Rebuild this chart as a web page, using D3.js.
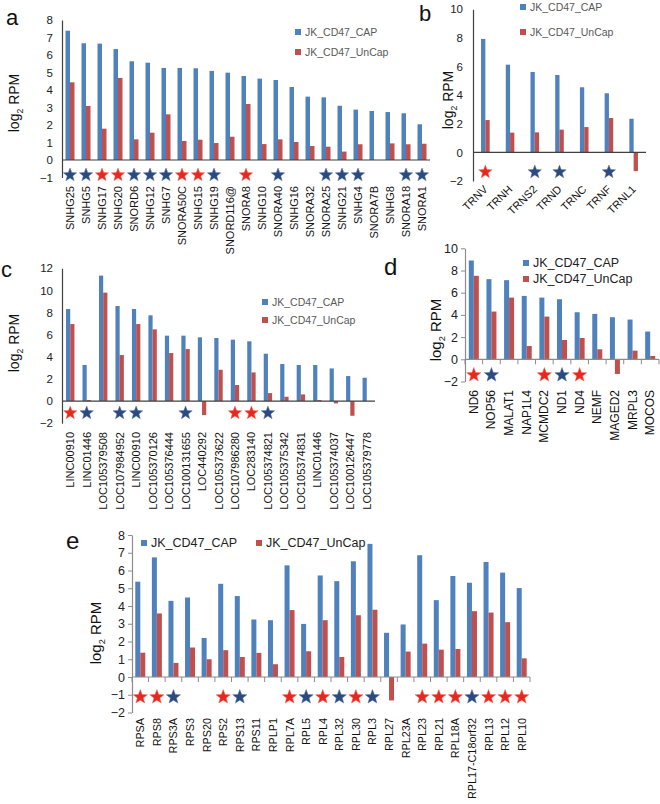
<!DOCTYPE html>
<html><head><meta charset="utf-8">
<script src="https://cdn.jsdelivr.net/npm/d3@7"></script>
<style>
body{margin:0;background:#fff;}
svg{display:block;font-family:"Liberation Sans",Arial,sans-serif;}
</style></head>
<body>
<svg id="chart" width="660" height="804"></svg>
<script>
// ---------- DATA ----------
const seriesNames = ["JK_CD47_CAP", "JK_CD47_UnCap"];

const aCategories = ["SNHG25","SNHG5","SNHG17","SNHG20","SNORD6","SNHG12","SNHG7","SNORA50C","SNHG15","SNHG19","SNORD116@","SNORA8","SNHG10","SNORA40","SNHG16","SNORA32","SNORA25","SNHG21","SNHG4","SNORA7B","SNHG8","SNORA18","SNORA1"];
const aCap   = [7.39,6.67,6.65,6.34,5.64,5.56,5.26,5.26,5.24,5.09,4.99,4.80,4.65,4.57,4.17,3.62,3.58,3.10,2.88,2.80,2.74,2.67,2.04];
const aUnCap = [4.44,3.09,1.79,4.69,1.18,1.56,2.61,1.09,1.16,0.97,1.33,3.20,0.91,1.18,1.03,0.80,0.76,0.48,0.90,null,0.95,0.90,0.93];
const aStars = ["b","b","r","r","b","b","b","r","r","b","","r","","b","","","b","b","b","","","b","b"];
const aTicks = [-1,0,1,2,3,4,5,6,7,8];

const bCategories = ["TRNV","TRNH","TRNS2","TRND","TRNC","TRNF","TRNL1"];
const bCap   = [7.93,6.13,5.62,5.41,4.55,4.13,2.35];
const bUnCap = [2.26,1.38,1.40,1.59,1.77,2.40,-1.31];
const bStars = ["r","","b","b","","b",""];
const bTicks = [-2,0,2,4,6,8,10];

const cCategories = ["LINC00910","LINC01446","LOC105379508","LOC107984952","LINC00910","LOC105370126","LOC105376444","LOC100131655","LOC440292","LOC105373622","LOC107986280","LOC283140","LOC105374821","LOC105375342","LOC105374831","LINC01446","LOC105374037","LOC100126447","LOC105379778"];
const cCap   = [8.32,3.26,11.34,8.59,8.32,7.75,5.91,5.91,5.76,5.70,5.55,5.40,4.28,3.35,3.26,3.26,2.95,2.26,2.11];
const cUnCap = [6.96,0.09,9.80,4.16,6.96,6.48,4.34,4.70,-1.27,2.83,1.45,2.59,0.72,0.39,0.60,0.09,-0.21,-1.33,null];
const cStars = ["r","b","","b","b","","","b","","","r","r","b","","","","","",""];
const cTicks = [-2,0,2,4,6,8,10,12];

const dCategories = ["ND6","NOP56","MALAT1","NAP1L4","MCMDC2","ND1","ND4","NEMF","MAGED2","MRPL3","MOCOS"];
const dCap   = [8.90,7.22,7.13,5.71,5.56,5.41,4.24,4.09,3.79,3.58,2.50];
const dUnCap = [7.52,4.30,5.56,1.20,3.85,1.74,1.92,0.90,-1.32,0.78,0.30];
const dStars = ["r","b","","","r","b","r","","","",""];
const dTicks = [-2,0,2,4,6,8,10];

const eCategories = ["RPSA","RPS8","RPS3A","RPS3","RPS20","RPS2","RPS13","RPS11","RPLP1","RPL7A","RPL5","RPL4","RPL32","RPL30","RPL3","RPL27","RPL23A","RPL23","RPL21","RPL18A","RPL17-C18orf32","RPL13","RPL12","RPL10"];
const eCap   = [5.37,6.74,4.29,4.48,2.20,5.25,4.56,3.24,3.20,6.29,2.99,5.72,5.40,6.52,7.50,2.49,2.96,6.86,4.33,5.69,5.31,6.48,5.88,5.01];
const eUnCap = [1.37,3.58,0.79,1.66,1.00,1.51,1.13,1.36,0.72,3.77,1.45,3.20,1.13,3.48,3.79,-1.32,1.43,1.88,1.54,1.58,3.71,3.63,3.09,1.05];
const eStars = ["r","r","b","","","r","b","","","r","b","r","b","r","b","","","r","r","r","b","r","r","r"];
const eTicks = [-2,-1,0,1,2,3,4,5,6,7,8];

// ---------- STYLE ----------
const COL_CAP = "#4f81bd", COL_UNCAP = "#c0504d";
const STAR_COL = {r:"#e8281e", b:"#2b4a7d"};

const svg = d3.select("#chart");

function starPath(cx, cy, ro, ri){
  const pts = [];
  for(let i=0;i<10;i++){
    const r = i%2 ? ri : ro;
    const a = (-90 + i*36) * Math.PI/180;
    pts.push([cx + r*Math.cos(a), cy + r*Math.sin(a)]);
  }
  return "M" + pts.map(p=>p[0].toFixed(2)+","+p[1].toFixed(2)).join("L") + "Z";
}

function yLabel(g, x, y, size){
  const t = g.append("text")
    .attr("transform", `translate(${x},${y}) rotate(-90)`)
    .attr("text-anchor","middle")
    .attr("font-size", size).attr("fill","#111");
  t.append("tspan").text("log");
  t.append("tspan").attr("font-size", size*0.62).attr("dy", size*0.25).text("2");
  t.append("tspan").attr("dy", -size*0.25).text(" RPM");
}

function panel(cfg){
  const g = svg.append("g");
  const x = d3.scaleBand().domain(d3.range(cfg.cats.length)).range([cfg.x0, cfg.x1]);
  const y = d3.scaleLinear().domain([cfg.ticks[0], cfg.ticks[cfg.ticks.length-1]]).range([cfg.yBottom, cfg.yTop]);
  const bw = cfg.barW;

  // y axis
  const ax = d3.axisLeft(y).tickValues(cfg.ticks).tickSizeOuter(0).tickSizeInner(cfg.tickMarks ? 4 : 0).tickPadding(cfg.tickPad);
  const ag = g.append("g").attr("transform", `translate(${cfg.x0},0)`).call(ax);
  ag.select(".domain").attr("stroke", cfg.axisColor).attr("stroke-width",1.2);
  ag.selectAll(".tick line").attr("stroke", cfg.axisColor);
  ag.selectAll(".tick text").attr("font-size", cfg.tickFont).attr("fill","#222").attr("font-family","Liberation Sans, Arial, sans-serif");

  // bars
  cfg.cats.forEach((c,i)=>{
    const cx = x(i) + x.bandwidth()/2;
    const v1 = cfg.cap[i], v2 = cfg.uncap[i];
    if(v1 != null){
      g.append("rect").attr("x", cx - bw).attr("width", bw)
        .attr("y", Math.min(y(v1), y(0))).attr("height", Math.abs(y(v1)-y(0)))
        .attr("fill", COL_CAP);
    }
    if(v2 != null){
      g.append("rect").attr("x", cx).attr("width", bw)
        .attr("y", Math.min(y(v2), y(0))).attr("height", Math.abs(y(v2)-y(0)))
        .attr("fill", COL_UNCAP);
    }
  });

  // zero line
  g.append("line").attr("x1", cfg.x0).attr("x2", cfg.x1).attr("y1", y(0)).attr("y2", y(0))
    .attr("stroke", cfg.axisColor).attr("stroke-width", 1.2);
  if(cfg.tickMarks){
    d3.range(cfg.cats.length+1).forEach(i=>{
      const xx = cfg.x0 + i*x.bandwidth();
      g.append("line").attr("x1", xx).attr("x2", xx).attr("y1", y(0)).attr("y2", y(0)+5)
        .attr("stroke", cfg.axisColor);
    });
  }

  // stars
  cfg.stars.forEach((s,i)=>{
    if(!s) return;
    const cx = x(i) + x.bandwidth()/2;
    g.append("path").attr("d", starPath(cx, cfg.starY, cfg.starR, cfg.starR*0.42))
      .attr("fill", STAR_COL[s]).attr("stroke", s==="r" ? "#f26a5e" : "#5b75a3").attr("stroke-width",0.5);
  });

  // category labels
  cfg.cats.forEach((c,i)=>{
    const cx = x(i) + x.bandwidth()/2;
    if(cfg.rot === -45){
      g.append("text").attr("transform", `translate(${cx+3},${cfg.labelY}) rotate(-45)`)
        .attr("text-anchor","end").attr("font-size", cfg.catFont).attr("fill","#111").text(c);
    } else {
      g.append("text").attr("transform", `translate(${cx},${cfg.labelY}) rotate(-90)`)
        .attr("text-anchor","end").attr("dominant-baseline","central")
        .attr("font-size", cfg.catFont).attr("fill","#111").text(c);
    }
  });

  // legend
  cfg.legend.forEach((L,k)=>{
    g.append("rect").attr("x", L[0]).attr("y", L[1]-3).attr("width",6).attr("height",6)
      .attr("fill", k===0 ? COL_CAP : COL_UNCAP);
    g.append("text").attr("x", L[0]+10).attr("y", L[1]).attr("dominant-baseline","central")
      .attr("font-size", cfg.legFont).attr("fill", cfg.legColor).text(seriesNames[k]);
  });

  yLabel(g, cfg.yLab[0], cfg.yLab[1], cfg.yLabFont);
  g.append("text").attr("x", cfg.letter[0]).attr("y", cfg.letter[1])
    .attr("font-size", cfg.letterFont).attr("fill","#111").text(cfg.letter[2]);
}

panel({cats:aCategories, cap:aCap, uncap:aUnCap, stars:aStars, ticks:aTicks,
  x0:62, x1:430, yTop:20, yBottom:177.5, barW:4.5, axisColor:"#404040", tickMarks:false, tickPad:9, tickFont:11.5,
  starY:175, starR:7, labelY:186, catFont:11, rot:-90,
  legend:[[295,32],[295,52]], legFont:10.5, legColor:"#595959",
  yLab:[19,103], yLabFont:14, letter:[6,25,"a"], letterFont:22});

panel({cats:bCategories, cap:bCap, uncap:bUnCap, stars:bStars, ticks:bTicks,
  x0:473, x1:646, yTop:9.3, yBottom:181, barW:4.3, axisColor:"#404040", tickMarks:false, tickPad:10, tickFont:11.5,
  starY:172, starR:7, labelY:190, catFont:11, rot:-45,
  legend:[[520,7],[520,32]], legFont:10.5, legColor:"#595959",
  yLab:[453,100], yLabFont:14, letter:[419,21,"b"], letterFont:22});

panel({cats:cCategories, cap:cCap, uncap:cUnCap, stars:cStars, ticks:cTicks,
  x0:62, x1:375, yTop:268.3, yBottom:423.2, barW:4.2, axisColor:"#404040", tickMarks:false, tickPad:9, tickFont:11.5,
  starY:413, starR:7, labelY:432, catFont:11, rot:-90,
  legend:[[262,302],[262,320]], legFont:10.5, legColor:"#595959",
  yLab:[19,343], yLabFont:14, letter:[1,277,"c"], letterFont:22});

panel({cats:dCategories, cap:dCap, uncap:dUnCap, stars:dStars, ticks:dTicks,
  x0:465, x1:659, yTop:248.3, yBottom:381.5, barW:5, axisColor:"#8c8c8c", tickMarks:true, tickPad:3, tickFont:12.5,
  starY:375, starR:7.5, labelY:390, catFont:12, rot:-90,
  legend:[[523,263],[523,279]], legFont:12.5, legColor:"#222",
  yLab:[441,330], yLabFont:15, letter:[384,275,"d"], letterFont:24});

panel({cats:eCategories, cap:eCap, uncap:eUnCap, stars:eStars, ticks:eTicks,
  x0:132, x1:530, yTop:535, yBottom:712.5, barW:5, axisColor:"#8c8c8c", tickMarks:true, tickPad:3, tickFont:12.5,
  starY:697, starR:7.5, labelY:718, catFont:10.8, rot:-90,
  legend:[[141,543],[256,543]], legFont:12.5, legColor:"#222",
  yLab:[101,633], yLabFont:15, letter:[66,549,"e"], letterFont:24});
</script>
</body></html>
